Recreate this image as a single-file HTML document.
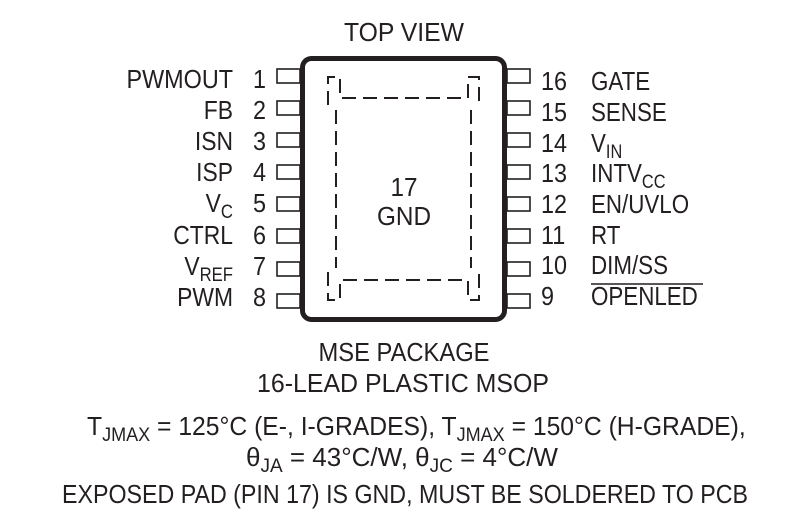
<!DOCTYPE html>
<html><head><meta charset="utf-8"><style>
html,body{margin:0;padding:0;background:#fff;}
svg{display:block;}
text{font-family:"Liberation Sans",Arial,sans-serif;font-size:26px;fill:#231f20;}
</style></head><body>
<svg width="812" height="522" viewBox="0 0 812 522" xmlns="http://www.w3.org/2000/svg">
<g fill="none" stroke="#231f20">
<rect x="302.5" y="58.5" width="202" height="261" rx="9" stroke-width="5"/>
<g stroke-width="1.6">
<rect x="277" y="69" width="23" height="14"/><rect x="277" y="101" width="23" height="14"/>
<rect x="277" y="133" width="23" height="14"/><rect x="277" y="165" width="23" height="14"/>
<rect x="277" y="197" width="23" height="14"/><rect x="277" y="229" width="23" height="14"/>
<rect x="277" y="262" width="23" height="14"/><rect x="277" y="294" width="23" height="14"/>
<rect x="507" y="69" width="23" height="14"/><rect x="507" y="101" width="23" height="14"/>
<rect x="507" y="133" width="23" height="14"/><rect x="507" y="165" width="23" height="14"/>
<rect x="507" y="197" width="23" height="14"/><rect x="507" y="229" width="23" height="14"/>
<rect x="507" y="262" width="23" height="14"/><rect x="507" y="294" width="23" height="14"/>
</g>
<g stroke-width="2" stroke-dasharray="14,7">
<path d="M328 105 V77 H340 V98 H468 V77 H479 V105"/>
<path d="M328 272 V300 H340 V280 H468 V300 H479 V272"/>
<path d="M336 110 V268"/>
<path d="M471 110 V268"/>
</g>
<line x1="591" y1="284" x2="703" y2="284" stroke-width="1.5"/>
</g>

<text x="404" y="41" text-anchor="middle" textLength="120" lengthAdjust="spacingAndGlyphs">TOP VIEW</text>

<g text-anchor="end">
<text transform="translate(233,88) scale(0.9,1)">PWMOUT</text>
<text transform="translate(233,119) scale(0.88,1)">FB</text>
<text transform="translate(233,150) scale(0.88,1)">ISN</text>
<text transform="translate(233,181) scale(0.88,1)">ISP</text>
<text transform="translate(233,212) scale(0.88,1)">V<tspan font-size="19" dy="6">C</tspan></text>
<text transform="translate(233,244) scale(0.88,1)">CTRL</text>
<text transform="translate(233,275) scale(0.88,1)">V<tspan font-size="19" dy="6">REF</tspan></text>
<text transform="translate(233,306) scale(0.88,1)">PWM</text>
<g transform="translate(0,0)">
<text transform="translate(266,88) scale(0.9,1)">1</text><text transform="translate(266,119) scale(0.9,1)">2</text><text transform="translate(266,150) scale(0.9,1)">3</text>
<text transform="translate(266,181) scale(0.9,1)">4</text><text transform="translate(266,212) scale(0.9,1)">5</text><text transform="translate(266,244) scale(0.9,1)">6</text>
<text transform="translate(266,275) scale(0.9,1)">7</text><text transform="translate(266,306) scale(0.9,1)">8</text>
</g>
</g>

<g>
<text transform="translate(541,90) scale(0.9,1)">16</text><text transform="translate(541,121) scale(0.9,1)">15</text><text transform="translate(541,152) scale(0.9,1)">14</text>
<text transform="translate(541,182) scale(0.9,1)">13</text><text transform="translate(541,213) scale(0.9,1)">12</text><text transform="translate(541,244) scale(0.9,1)">11</text>
<text transform="translate(541,274) scale(0.9,1)">10</text><text transform="translate(541,305) scale(0.9,1)">9</text>
<text transform="translate(591,90) scale(0.86,1)">GATE</text>
<text transform="translate(591,121) scale(0.86,1)">SENSE</text>
<text transform="translate(591,152) scale(0.86,1)">V<tspan font-size="19" dy="6">IN</tspan></text>
<text transform="translate(591,182) scale(0.86,1)">INTV<tspan font-size="19" dy="6">CC</tspan></text>
<text transform="translate(591,213) scale(0.86,1)">EN/UVLO</text>
<text transform="translate(591,244) scale(0.86,1)">RT</text>
<text transform="translate(591,274) scale(0.86,1)">DIM/SS</text>
<text transform="translate(591,305) scale(0.86,1)">OPENLED</text>
</g>

<text x="404" y="196" text-anchor="middle" textLength="27" lengthAdjust="spacingAndGlyphs">17</text>
<text x="404" y="225" text-anchor="middle" textLength="54" lengthAdjust="spacingAndGlyphs">GND</text>

<text x="404" y="361" text-anchor="middle" textLength="171" lengthAdjust="spacingAndGlyphs">MSE PACKAGE</text>
<text x="403" y="392" text-anchor="middle" textLength="292" lengthAdjust="spacingAndGlyphs">16-LEAD PLASTIC MSOP</text>
<text transform="translate(87,435) scale(0.95,1)">T<tspan font-size="19" dy="6">JMAX</tspan><tspan dy="-6"> = 125°C (E-, I-GRADES), T</tspan><tspan font-size="19" dy="6">JMAX</tspan><tspan dy="-6"> = 150°C (H-GRADE),</tspan></text>
<text transform="translate(246,466) scale(1.0,1)">θ<tspan font-size="19" dy="6">JA</tspan><tspan dy="-6"> = 43°C/W, θ</tspan><tspan font-size="19" dy="6">JC</tspan><tspan dy="-6"> = 4°C/W</tspan></text>
<text x="62" y="503" textLength="686" lengthAdjust="spacingAndGlyphs">EXPOSED PAD (PIN 17) IS GND, MUST BE SOLDERED TO PCB</text>
</svg>
</body></html>
